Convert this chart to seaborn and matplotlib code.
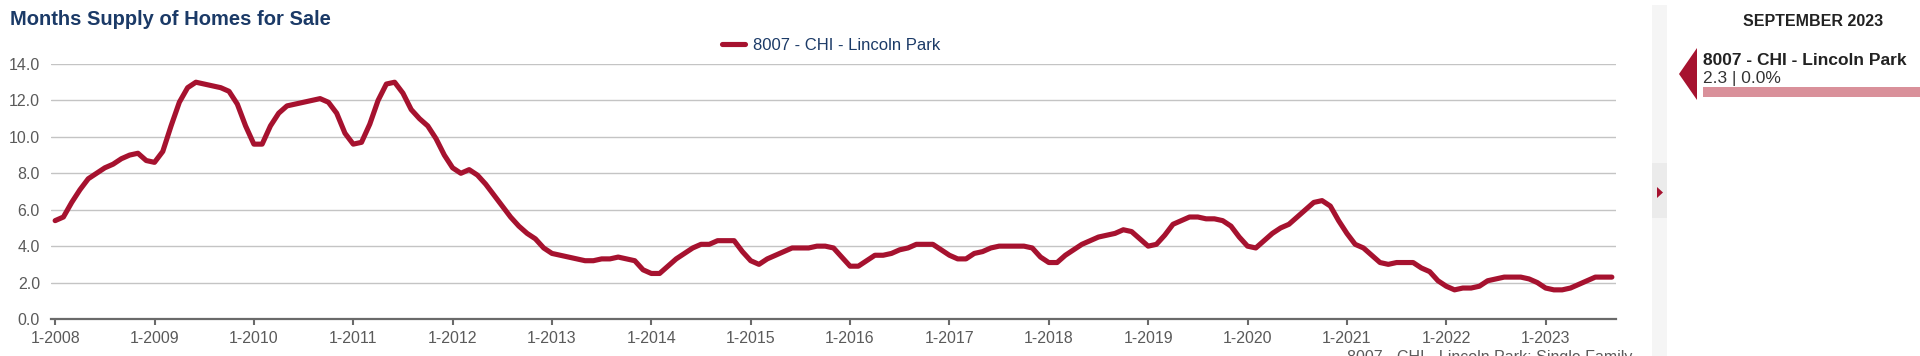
import numpy as np
import pandas as pd
import matplotlib
matplotlib.use("Agg")
import matplotlib.pyplot as plt
import seaborn as sns
from matplotlib.patches import Rectangle, Polygon

# ---------------- data ----------------
series_name = "8007 - CHI - Lincoln Park"
supply_2008 = [5.4, 5.6, 6.4, 7.1, 7.7, 8.0, 8.3, 8.5, 8.8, 9.0, 9.1, 8.7]
supply_2009 = [8.6, 9.2, 10.6, 11.9, 12.7, 13.0, 12.9, 12.8, 12.7, 12.5, 11.8, 10.6]
supply_2010 = [9.6, 9.6, 10.6, 11.3, 11.7, 11.8, 11.9, 12.0, 12.1, 11.9, 11.3, 10.2]
supply_2011 = [9.6, 9.7, 10.7, 12.0, 12.9, 13.0, 12.4, 11.5, 11.0, 10.6, 9.9, 9.0]
supply_2012 = [8.3, 8.0, 8.2, 7.9, 7.4, 6.8, 6.2, 5.6, 5.1, 4.7, 4.4, 3.9]
supply_2013 = [3.6, 3.5, 3.4, 3.3, 3.2, 3.2, 3.3, 3.3, 3.4, 3.3, 3.2, 2.7]
supply_2014 = [2.5, 2.5, 2.9, 3.3, 3.6, 3.9, 4.1, 4.1, 4.3, 4.3, 4.3, 3.7]
supply_2015 = [3.2, 3.0, 3.3, 3.5, 3.7, 3.9, 3.9, 3.9, 4.0, 4.0, 3.9, 3.4]
supply_2016 = [2.9, 2.9, 3.2, 3.5, 3.5, 3.6, 3.8, 3.9, 4.1, 4.1, 4.1, 3.8]
supply_2017 = [3.5, 3.3, 3.3, 3.6, 3.7, 3.9, 4.0, 4.0, 4.0, 4.0, 3.9, 3.4]
supply_2018 = [3.1, 3.1, 3.5, 3.8, 4.1, 4.3, 4.5, 4.6, 4.7, 4.9, 4.8, 4.4]
supply_2019 = [4.0, 4.1, 4.6, 5.2, 5.4, 5.6, 5.6, 5.5, 5.5, 5.4, 5.1, 4.5]
supply_2020 = [4.0, 3.9, 4.3, 4.7, 5.0, 5.2, 5.6, 6.0, 6.4, 6.5, 6.2, 5.4]
supply_2021 = [4.7, 4.1, 3.9, 3.5, 3.1, 3.0, 3.1, 3.1, 3.1, 2.8, 2.6, 2.1]
supply_2022 = [1.8, 1.6, 1.7, 1.7, 1.8, 2.1, 2.2, 2.3, 2.3, 2.3, 2.2, 2.0]
supply_2023 = [1.7, 1.6, 1.6, 1.7, 1.9, 2.1, 2.3, 2.3, 2.3]

x_tick_labels = ["1-2008", "1-2009", "1-2010", "1-2011", "1-2012", "1-2013",
                 "1-2014", "1-2015", "1-2016", "1-2017", "1-2018", "1-2019",
                 "1-2020", "1-2021", "1-2022", "1-2023"]
y_ticks = [0, 2, 4, 6, 8, 10, 12, 14]

panel_month = "SEPTEMBER 2023"
panel_value = "2.3 | 0.0%"
footnote = "8007 - CHI - Lincoln Park: Single Family"

values = (supply_2008 + supply_2009 + supply_2010 + supply_2011 + supply_2012 +
          supply_2013 + supply_2014 + supply_2015 + supply_2016 + supply_2017 +
          supply_2018 + supply_2019 + supply_2020 + supply_2021 + supply_2022 +
          supply_2023)
df = pd.DataFrame({"month": np.arange(len(values)), "supply": values,
                   "series": series_name})

# ---------------- style ----------------
sns.set_theme(style="white")
plt.rcParams["font.family"] = ["Liberation Sans", "DejaVu Sans"]

W, H = 1920, 356
fig = plt.figure(figsize=(W / 100, H / 100), dpi=100)
fig.patch.set_facecolor("white")

def fx(px):
    return px / W

def fy(py):
    return (H - py) / H

ax = fig.add_axes([fx(51), fy(319), (1616 - 51) / W, (319 - 64) / H])

line_color = "#a6122f"
navy = "#1b3a67"
sns.lineplot(data=df, x="month", y="supply", hue="series",
             palette=[line_color], linewidth=3.7, ax=ax, zorder=3)

ax.set_xlim(-0.5, len(values) - 0.5)
ax.set_ylim(0, 14)
ax.set_yticks(y_ticks)
ax.set_yticklabels([f"{v:.1f}" for v in y_ticks])
ax.set_xticks(np.arange(0, 12 * len(x_tick_labels), 12))
ax.set_xticklabels(x_tick_labels)
ax.set_xlabel("")
ax.set_ylabel("")

ax.grid(axis="y", color="#c4c4c4", linewidth=1.0)
ax.grid(axis="x", visible=False)
ax.set_axisbelow(True)
for s in ["top", "right", "left"]:
    ax.spines[s].set_visible(False)
ax.spines["bottom"].set_color("#6a6a6a")
ax.spines["bottom"].set_linewidth(1.6)
ax.spines["bottom"].set_zorder(4)

ax.tick_params(axis="y", length=0, pad=8, labelsize=11.5, labelcolor="#5a5a5a")
ax.tick_params(axis="x", length=4.5, width=1.5, color="#6a6a6a", pad=4,
               labelsize=11.5, labelcolor="#5a5a5a", bottom=True)

handles, labels = ax.get_legend_handles_labels()
ax.legend(handles, labels, loc="center", bbox_to_anchor=(fx(831), fy(45)),
          bbox_transform=fig.transFigure, frameon=False, handlelength=1.4,
          handletextpad=0.45, fontsize=12, labelcolor=navy)

# title
fig.text(fx(10), fy(25), "Months Supply of Homes for Sale", ha="left",
         va="baseline", fontsize=14.5, fontweight="bold", color=navy)

# footnote (cut at the bottom edge, as in the source)
fig.text(fx(1347), fy(350), footnote, ha="left", va="top", fontsize=11.5,
         color="#5a5a5a")

# right side scroll strip
fig.patches.append(Rectangle((fx(1652), 0), 15 / W, fy(5), transform=fig.transFigure,
                             facecolor="#f5f5f5", edgecolor="none"))
fig.patches.append(Rectangle((fx(1652), fy(218)), 15 / W, 55 / H,
                             transform=fig.transFigure, facecolor="#ebebeb",
                             edgecolor="none"))
fig.patches.append(Polygon([(fx(1657), fy(187)), (fx(1657), fy(198)), (fx(1663), fy(192.5))],
                           closed=True, transform=fig.transFigure,
                           facecolor=line_color, edgecolor="none"))

# right info panel
fig.text(fx(1813), fy(22), panel_month, ha="center", va="center",
         fontsize=11.5, fontweight="bold", color="#222222")
fig.patches.append(Polygon([(fx(1679), fy(74)), (fx(1697), fy(48)), (fx(1697), fy(100))],
                           closed=True, transform=fig.transFigure,
                           facecolor=line_color, edgecolor="none"))
fig.text(fx(1703), fy(65), series_name, ha="left", va="baseline",
         fontsize=12.5, fontweight="bold", color="#222222")
fig.text(fx(1703), fy(83), panel_value, ha="left", va="baseline",
         fontsize=12.5, color="#333333")
fig.patches.append(Rectangle((fx(1703), fy(97)), 217 / W, 10 / H,
                             transform=fig.transFigure, facecolor="#d9909a",
                             edgecolor="none"))

fig.savefig("out.png", dpi=100, facecolor="white")
